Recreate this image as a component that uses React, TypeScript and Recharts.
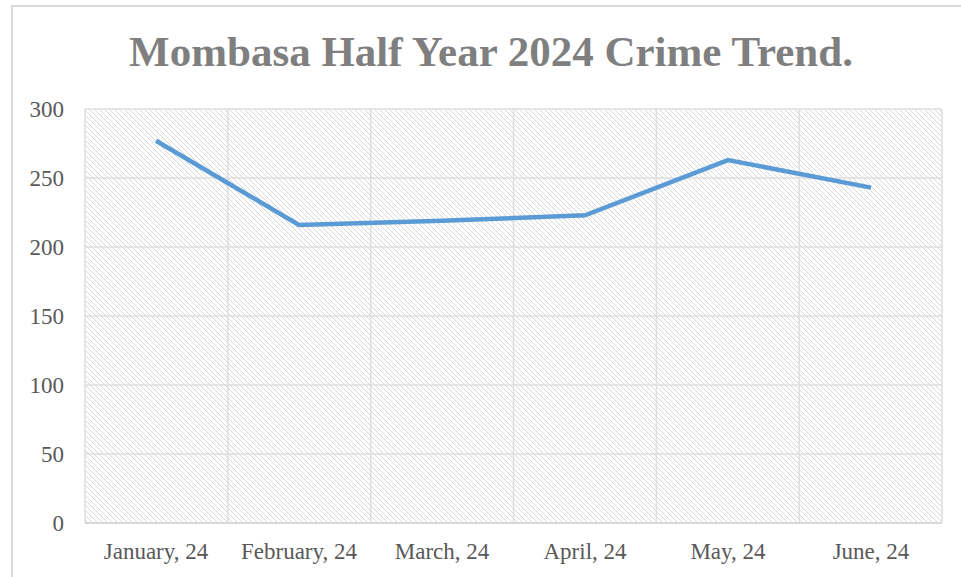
import { LineChart, Line, XAxis, YAxis, CartesianGrid } from "recharts";

const months = ["January, 24", "February, 24", "March, 24", "April, 24", "May, 24", "June, 24"];
const crimes = [277, 216, 219, 223, 263, 243];
const yTicks = [0, 50, 100, 150, 200, 250, 300];

const data = months.map((m, i) => ({ month: m, crimes: crimes[i] }));

const FONT = "'Liberation Serif', 'Times New Roman', serif";

export default function App() {
  return (
    <div style={{ position: "absolute", left: 0, top: 0, width: 961, height: 577, background: "#fff", overflow: "hidden" }}>
      {/* outer chart frame, only left/top edges show */}
      <div
        style={{
          position: "absolute",
          left: 11,
          top: 5,
          width: 1000,
          height: 700,
          borderLeft: "2px solid #d9d9d9",
          borderTop: "2px solid #d9d9d9",
        }}
      />
      <div
        style={{
          position: "absolute",
          left: 0,
          top: 27,
          width: 982,
          textAlign: "center",
          fontFamily: FONT,
          fontWeight: 700,
          fontSize: 43,
          color: "#7f7f7f",
        }}
      >
        Mombasa Half Year 2024 Crime Trend.
      </div>
      <div style={{ position: "absolute", left: 0, top: 0 }}>
        <LineChart width={961} height={577} data={data} margin={{ top: 109, right: 19, left: 25, bottom: 14 }}>
          <defs>
            <pattern id="hatch" patternUnits="userSpaceOnUse" width="5" height="5">
              <path d="M-1,-1 L6,6 M-1,4 L1,6 M4,-1 L6,1" stroke="#d8d8d8" strokeWidth="1" />
            </pattern>
          </defs>
          <CartesianGrid
            stroke="#dedede"
            strokeWidth={1.5}
            fill="url(#hatch)"
            fillOpacity={1}
            verticalCoordinatesGenerator={({ offset }) =>
              months.map((_, i) => offset.left + (i * offset.width) / months.length).concat(offset.left + offset.width)
            }
          />
          <XAxis
            dataKey="month"
            height={40}
            tickSize={0}
            tickMargin={20}
            padding={{ left: 71, right: 71 }}
            axisLine={{ stroke: "#d9d9d9", strokeWidth: 2 }}
            tick={{ fontSize: 23, fill: "#595959", fontFamily: FONT }}
            interval={0}
          />
          <YAxis
            domain={[0, 300]}
            ticks={yTicks}
            width={60}
            tickSize={0}
            tickMargin={21}
            axisLine={false}
            tick={{ fontSize: 23, fill: "#595959", fontFamily: FONT }}
          />
          <Line
            type="linear"
            dataKey="crimes"
            stroke="#5b9bd5"
            strokeWidth={4.5}
            dot={false}
            isAnimationActive={false}
          />
        </LineChart>
      </div>
    </div>
  );
}
